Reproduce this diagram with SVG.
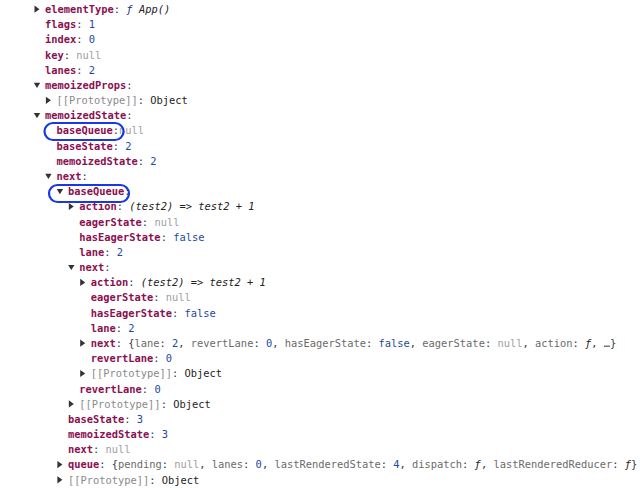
<svg xmlns="http://www.w3.org/2000/svg" width="640" height="488" viewBox="0 0 640 488">
<style>
text{font-family:"DejaVu Sans Mono","Liberation Mono",monospace;font-size:10.4px;fill:#303942}
.k{fill:#8a1050;font-weight:bold}
.n{fill:#1a4aa0}
.nl{fill:#a0a0a0}
.g{fill:#8a8a8a}
.o{fill:#222}
.i{font-style:italic;fill:#222}
.f{font-style:italic;fill:#1a2f80}
.pv{fill:#6a6a6a}
.tri{fill:#333}
.hl{fill:none;stroke:#1638e8;stroke-width:2.2}
</style>
<defs>
<path id="tr" class="tri" d="M0,-3.6 L5,0 L0,3.6 Z"/>
<path id="td" class="tri" d="M-3.2,-2.4 L3.2,-2.4 L0,2.8 Z"/>
</defs>
<rect width="640" height="488" fill="#ffffff"/>

<g id="row0"><use href="#tr" x="34.5" y="9.2"/><text x="45" y="13"><tspan class="k">elementType</tspan>: <tspan class="f">ƒ</tspan> <tspan class="i">App()</tspan></text></g>
<g id="row1"><text x="45" y="28.2"><tspan class="k">flags</tspan>: <tspan class="n">1</tspan></text></g>
<g id="row2"><text x="45" y="43.4"><tspan class="k">index</tspan>: <tspan class="n">0</tspan></text></g>
<g id="row3"><text x="45" y="58.5"><tspan class="k">key</tspan>: <tspan class="nl">null</tspan></text></g>
<g id="row4"><text x="45" y="73.7"><tspan class="k">lanes</tspan>: <tspan class="n">2</tspan></text></g>
<g id="row5"><use href="#td" x="37" y="85.1"/><text x="45" y="88.9"><tspan class="k">memoizedProps</tspan>:</text></g>
<g id="row6"><use href="#tr" x="45.9" y="100.3"/><text x="56.4" y="104.1"><tspan class="g">[[Prototype]]</tspan>: <tspan class="o">Object</tspan></text></g>
<g id="row7"><use href="#td" x="37" y="115.5"/><text x="45" y="119.3"><tspan class="k">memoizedState</tspan>:</text></g>
<g id="row8"><text x="56.4" y="134.4"><tspan class="k">baseQueue</tspan>:<tspan class="nl">null</tspan></text></g>
<g id="row9"><text x="56.4" y="149.6"><tspan class="k">baseState</tspan>: <tspan class="n">2</tspan></text></g>
<g id="row10"><text x="56.4" y="164.8"><tspan class="k">memoizedState</tspan>: <tspan class="n">2</tspan></text></g>
<g id="row11"><use href="#td" x="48.4" y="176.2"/><text x="56.4" y="180"><tspan class="k">next</tspan>:</text></g>
<g id="row12"><use href="#td" x="59.9" y="191.4"/><text x="67.9" y="195.2"><tspan class="k">baseQueue</tspan>:</text></g>
<g id="row13"><use href="#tr" x="68.8" y="206.5"/><text x="79.3" y="210.3"><tspan class="k">action</tspan>: <tspan class="i">(test2) =&gt; test2 + 1</tspan></text></g>
<g id="row14"><text x="79.3" y="225.5"><tspan class="k">eagerState</tspan>: <tspan class="nl">null</tspan></text></g>
<g id="row15"><text x="79.3" y="240.7"><tspan class="k">hasEagerState</tspan>: <tspan class="n">false</tspan></text></g>
<g id="row16"><text x="79.3" y="255.9"><tspan class="k">lane</tspan>: <tspan class="n">2</tspan></text></g>
<g id="row17"><use href="#td" x="71.3" y="267.3"/><text x="79.3" y="271.1"><tspan class="k">next</tspan>:</text></g>
<g id="row18"><use href="#tr" x="80.2" y="282.4"/><text x="90.7" y="286.2"><tspan class="k">action</tspan>: <tspan class="i">(test2) =&gt; test2 + 1</tspan></text></g>
<g id="row19"><text x="90.7" y="301.4"><tspan class="k">eagerState</tspan>: <tspan class="nl">null</tspan></text></g>
<g id="row20"><text x="90.7" y="316.6"><tspan class="k">hasEagerState</tspan>: <tspan class="n">false</tspan></text></g>
<g id="row21"><text x="90.7" y="331.8"><tspan class="k">lane</tspan>: <tspan class="n">2</tspan></text></g>
<g id="row22"><use href="#tr" x="80.2" y="343.2"/><text x="90.7" y="347"><tspan class="k">next</tspan>: {<tspan class="pv">lane</tspan>: <tspan class="n">2</tspan>, <tspan class="pv">revertLane</tspan>: <tspan class="n">0</tspan>, <tspan class="pv">hasEagerState</tspan>: <tspan class="n">false</tspan>, <tspan class="pv">eagerState</tspan>: <tspan class="nl">null</tspan>, <tspan class="pv">action</tspan>: <tspan class="i">ƒ</tspan>, …}</text></g>
<g id="row23"><text x="90.7" y="362.1"><tspan class="k">revertLane</tspan>: <tspan class="n">0</tspan></text></g>
<g id="row24"><use href="#tr" x="80.2" y="373.5"/><text x="90.7" y="377.3"><tspan class="g">[[Prototype]]</tspan>: <tspan class="o">Object</tspan></text></g>
<g id="row25"><text x="79.3" y="392.5"><tspan class="k">revertLane</tspan>: <tspan class="n">0</tspan></text></g>
<g id="row26"><use href="#tr" x="68.8" y="403.9"/><text x="79.3" y="407.7"><tspan class="g">[[Prototype]]</tspan>: <tspan class="o">Object</tspan></text></g>
<g id="row27"><text x="67.9" y="422.9"><tspan class="k">baseState</tspan>: <tspan class="n">3</tspan></text></g>
<g id="row28"><text x="67.9" y="438"><tspan class="k">memoizedState</tspan>: <tspan class="n">3</tspan></text></g>
<g id="row29"><text x="67.9" y="453.2"><tspan class="k">next</tspan>: <tspan class="nl">null</tspan></text></g>
<g id="row30"><use href="#tr" x="57.4" y="464.6"/><text x="67.9" y="468.4"><tspan class="k">queue</tspan>: {<tspan class="pv">pending</tspan>: <tspan class="nl">null</tspan>, <tspan class="pv">lanes</tspan>: <tspan class="n">0</tspan>, <tspan class="pv">lastRenderedState</tspan>: <tspan class="n">4</tspan>, <tspan class="pv">dispatch</tspan>: <tspan class="i">ƒ</tspan>, <tspan class="pv">lastRenderedReducer</tspan>: <tspan class="i">ƒ</tspan>}</text></g>
<g id="row31"><use href="#tr" x="57.4" y="479.8"/><text x="67.9" y="483.6"><tspan class="g">[[Prototype]]</tspan>: <tspan class="o">Object</tspan></text></g>

<g id="highlights">
<rect class="hl" x="44.5" y="123" width="79" height="17" rx="8.5"/>
<rect class="hl" x="49" y="185" width="80" height="17" rx="8.5"/>
</g>
</svg>
